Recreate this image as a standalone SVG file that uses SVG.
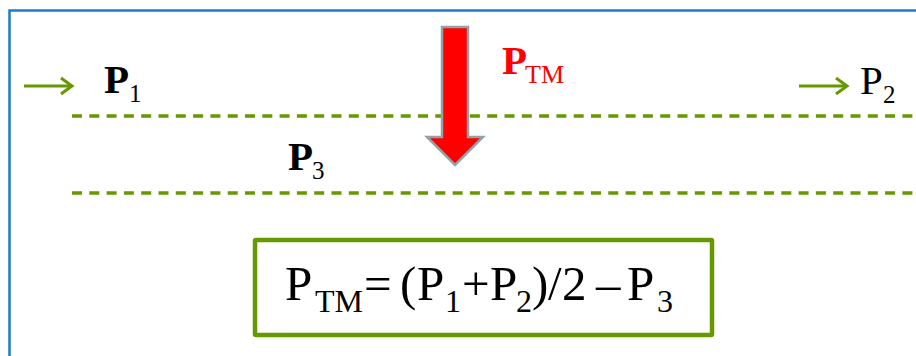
<svg xmlns="http://www.w3.org/2000/svg" width="916" height="356" viewBox="0 0 916 356">
<style>
.t{font-family:"Liberation Serif","Times New Roman",serif;fill:#000}
.b{font-weight:bold}
.red{fill:#ff0000}
.dash{stroke:#669900;stroke-width:3.5;stroke-dasharray:10 7.3;fill:none}
.flow{stroke:#669900;stroke-width:3;fill:none}
</style>
<defs>
<marker id="ah" markerWidth="8" markerHeight="8" refX="6" refY="4" orient="auto" markerUnits="userSpaceOnUse" viewBox="0 0 8 8" overflow="visible">
<path d="M-5,-4 L6,4 L-5,12" fill="none" stroke="#669900" stroke-width="3"/>
</marker>
</defs>
<rect width="916" height="356" fill="#fff"/>
<path d="M9.5 360 V10.5 H920" fill="none" stroke="#1f7bc8" stroke-width="2.5"/>
<g id="connectors">
<line class="flow" x1="24" y1="86" x2="72" y2="86" marker-end="url(#ah)"/>
<line class="flow" x1="799" y1="86" x2="847" y2="86" marker-end="url(#ah)"/>
<line class="dash" x1="72" y1="116" x2="914" y2="116"/>
<line class="dash" x1="72" y1="193" x2="914" y2="193"/>
</g>
<g id="arrow-ptm">
<polygon points="442,27 468,27 468,137 483,137 455,165 427,137 442,137" fill="#ff0000" stroke="#90a3a8" stroke-width="2.5" stroke-linejoin="miter"/>
</g>
<g id="label-ptm">
<text class="t b red" x="502" y="74" font-size="41">P</text>
<text class="t red" x="525" y="83" font-size="26">TM</text>
</g>
<g id="label-p1">
<text class="t b" x="104" y="93" font-size="41">P</text>
<text class="t" x="129" y="102" font-size="25">1</text>
</g>
<g id="label-p2">
<text class="t" x="860" y="94" font-size="41">P</text>
<text class="t" x="883" y="103" font-size="25">2</text>
</g>
<g id="label-p3">
<text class="t b" x="288" y="170" font-size="41">P</text>
<text class="t" x="312" y="179" font-size="25">3</text>
</g>
<g id="formula">
<rect x="255" y="240" width="457" height="95" fill="#fff" stroke="#669900" stroke-width="4.5" rx="1"/>
<text class="t" font-size="49" y="300">
<tspan x="285">P</tspan><tspan x="315" y="312" font-size="32">TM</tspan><tspan x="364" y="300">=</tspan><tspan x="400">(</tspan><tspan x="417">P</tspan><tspan x="445" y="312" font-size="32">1</tspan><tspan x="462" y="300">+</tspan><tspan x="490">P</tspan><tspan x="516" y="312" font-size="32">2</tspan><tspan x="532" y="300">)</tspan><tspan x="548">/</tspan><tspan x="562">2</tspan><tspan x="596">–</tspan><tspan x="627">P</tspan><tspan x="657" y="312" font-size="32">3</tspan>
</text>
</g>
</svg>
